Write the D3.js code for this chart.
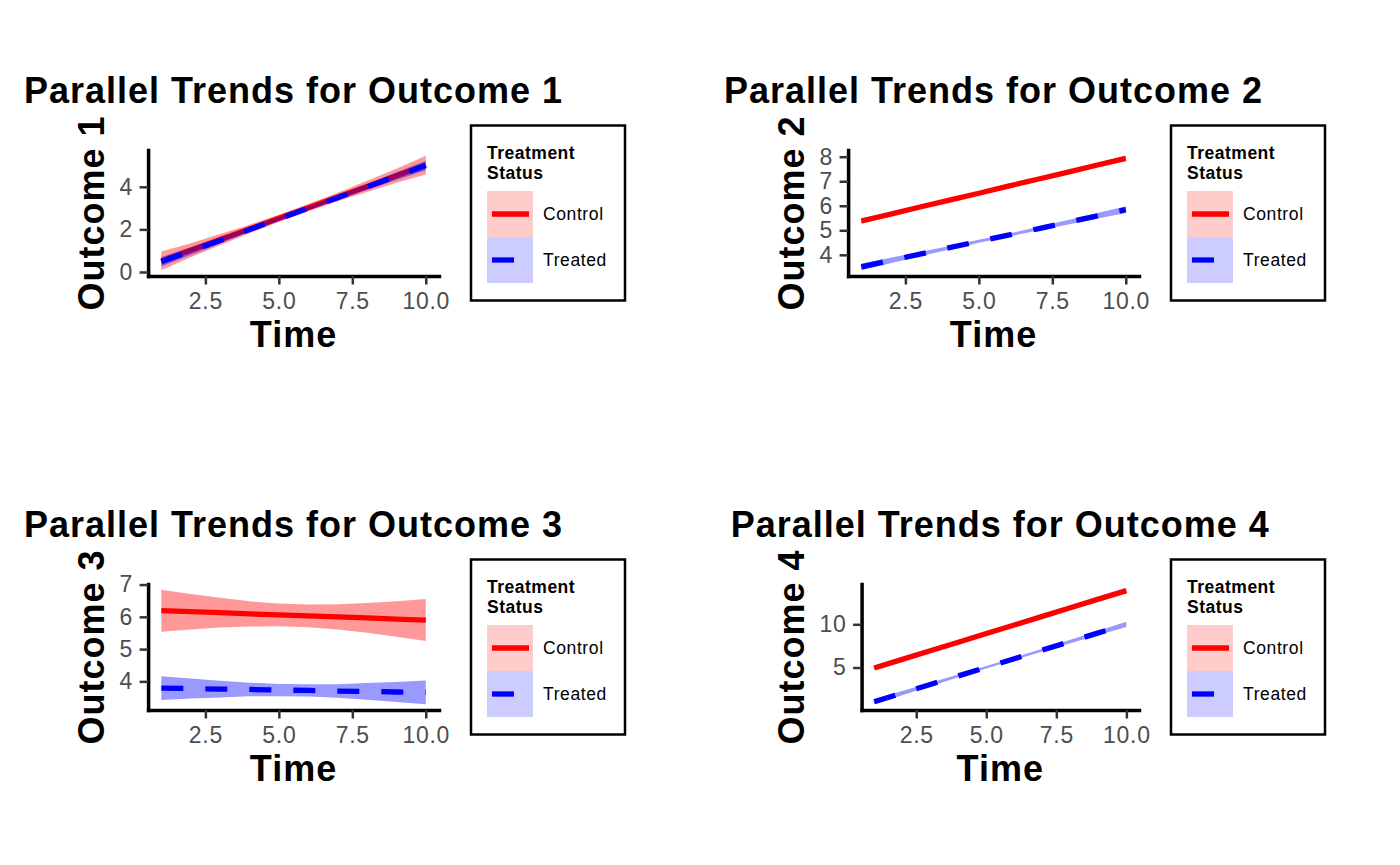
<!DOCTYPE html>
<html>
<head>
<meta charset="utf-8">
<script src="https://cdnjs.cloudflare.com/ajax/libs/d3/7.8.5/d3.min.js"></script>
<style>
  body { margin: 0; background: #fff; }
  text { font-family: "Liberation Sans", Arial, sans-serif; }
</style>
</head>
<body>
<div class="canvas"></div>
<script>
//---------------------------
// data (fitted lines with their confidence bands)
const time = [1, 2, 3, 4, 5, 6, 7, 8, 9, 10];
const xTicks = [2.5, 5.0, 7.5, 10.0];
const groups = ['Control', 'Treated'];
const outcomeNames = ['Outcome 1', 'Outcome 2', 'Outcome 3', 'Outcome 4'];

// Outcome 1
const o1Control   = [0.52, 1.02, 1.52, 2.02, 2.52, 3.02, 3.52, 4.02, 4.52, 5.02];
const o1ControlLo = [0.08, 0.69, 1.26, 1.82, 2.35, 2.85, 3.32, 3.76, 4.19, 4.58];
const o1ControlHi = [0.96, 1.35, 1.78, 2.22, 2.69, 3.19, 3.72, 4.28, 4.85, 5.46];
const o1Treated   = [0.48, 0.98, 1.48, 1.99, 2.49, 2.99, 3.49, 3.99, 4.50, 5.00];
const o1TreatedLo = [0.26, 0.80, 1.34, 1.88, 2.40, 2.90, 3.38, 3.85, 4.32, 4.78];
const o1TreatedHi = [0.70, 1.16, 1.62, 2.10, 2.58, 3.08, 3.60, 4.13, 4.68, 5.22];
const o1YTicks = [0, 2, 4];

// Outcome 2
const o2Control   = [5.38, 5.66, 5.95, 6.23, 6.51, 6.80, 7.08, 7.36, 7.65, 7.93];
const o2ControlLo = [5.27, 5.57, 5.88, 6.17, 6.46, 6.75, 7.02, 7.29, 7.56, 7.82];
const o2ControlHi = [5.49, 5.75, 6.02, 6.29, 6.56, 6.85, 7.14, 7.43, 7.74, 8.04];
const o2Treated   = [3.51, 3.77, 4.03, 4.29, 4.55, 4.80, 5.06, 5.32, 5.58, 5.84];
const o2TreatedLo = [3.37, 3.66, 3.94, 4.22, 4.49, 4.74, 4.99, 5.23, 5.47, 5.70];
const o2TreatedHi = [3.65, 3.88, 4.12, 4.36, 4.61, 4.86, 5.13, 5.41, 5.69, 5.98];
const o2YTicks = [4, 5, 6, 7, 8];

// Outcome 3
const o3Control   = [6.19, 6.16, 6.13, 6.09, 6.06, 6.03, 6.00, 5.97, 5.93, 5.90];
const o3ControlLo = [5.54, 5.61, 5.67, 5.70, 5.71, 5.68, 5.61, 5.51, 5.38, 5.25];
const o3ControlHi = [6.84, 6.71, 6.59, 6.48, 6.41, 6.38, 6.39, 6.43, 6.48, 6.55];
const o3Treated   = [3.79, 3.78, 3.76, 3.75, 3.73, 3.72, 3.70, 3.69, 3.67, 3.66];
const o3TreatedLo = [3.42, 3.47, 3.50, 3.54, 3.54, 3.53, 3.49, 3.43, 3.36, 3.29];
const o3TreatedHi = [4.16, 4.09, 4.02, 3.96, 3.92, 3.91, 3.91, 3.95, 3.98, 4.03];
const o3YTicks = [4, 5, 6, 7];

// Outcome 4
const o4Control   = [4.95, 5.94, 6.94, 7.93, 8.93, 9.92, 10.92, 11.91, 12.91, 13.90];
const o4ControlLo = [4.85, 5.85, 6.86, 7.86, 8.87, 9.86, 10.85, 11.83, 12.82, 13.80];
const o4ControlHi = [5.05, 6.03, 7.02, 8.00, 8.99, 9.98, 10.99, 11.99, 13.00, 14.00];
const o4Treated   = [1.05, 2.04, 3.04, 4.03, 5.03, 6.02, 7.02, 8.01, 9.01, 10.00];
const o4TreatedLo = [0.75, 1.79, 2.84, 3.87, 4.89, 5.88, 6.86, 7.81, 8.76, 9.70];
const o4TreatedHi = [1.35, 2.29, 3.24, 4.19, 5.17, 6.16, 7.18, 8.21, 9.26, 10.30];
const o4YTicks = [5, 10];
//---------------------------

// build the table the drawing code walks through
const panels = [
    { fit: [o1Control, o1Treated], lo: [o1ControlLo, o1TreatedLo], hi: [o1ControlHi, o1TreatedHi], yTicks: o1YTicks },
    { fit: [o2Control, o2Treated], lo: [o2ControlLo, o2TreatedLo], hi: [o2ControlHi, o2TreatedHi], yTicks: o2YTicks },
    { fit: [o3Control, o3Treated], lo: [o3ControlLo, o3TreatedLo], hi: [o3ControlHi, o3TreatedHi], yTicks: o3YTicks },
    { fit: [o4Control, o4Treated], lo: [o4ControlLo, o4TreatedLo], hi: [o4ControlHi, o4TreatedHi], yTicks: o4YTicks }
];

// style / layout properties
const prop = {
    width: 1400,
    height: 865,
    cellW: 700,
    cellH: 434,
    plotTop: 150,
    plotBottom: 276,
    plotRight: 439,
    yTitleX: 104,     // baseline of the rotated y title
    colors: ['#FF0000', '#0000FF'],
    keyFills: ['#FFCCCC', '#CCCCFF'],
    dash: ['none', '22,22'],
    lineWidth: 5.3,
    titleSize: 36,
    titleSpacing: 1
};

const svg = d3.select('.canvas').append('svg')
    .attr('width', prop.width)
    .attr('height', prop.height);

// x scale is the same for every panel apart from the left edge
const xExt = d3.extent(time);
const xPad = (xExt[1] - xExt[0]) * 0.05;

panels.forEach((p, i) => {
    const offX = (i % 2) * prop.cellW;
    const offY = Math.floor(i / 2) * prop.cellH;
    const g = svg.append('g').attr('transform', `translate(${offX},${offY})`);

    // y scale, ggplot style 5% expansion
    const all = d3.merge(p.lo.concat(p.hi));
    const [mn, mx] = d3.extent(all);
    const yPad = (mx - mn) * 0.05;
    const y = d3.scaleLinear()
        .domain([mn - yPad, mx + yPad])
        .range([prop.plotBottom, prop.plotTop]);

    // y axis first, so the label width decides where the panel starts
    const yAxisG = g.append('g');
    yAxisG.call(d3.axisLeft(y).tickValues(p.yTicks).tickFormat(d3.format('d'))
        .tickSize(8.5).tickPadding(6.5).tickSizeOuter(0));
    yAxisG.selectAll('text')
        .attr('font-size', 23)
        .attr('letter-spacing', 0.7)
        .attr('fill', '#4D4D4D');
    let labelW = 0;
    yAxisG.selectAll('text').each(function () {
        labelW = Math.max(labelW, this.getComputedTextLength());
    });
    const left = prop.yTitleX + 15.6 + labelW + 15;
    yAxisG.attr('transform', `translate(${left},0)`);

    const x = d3.scaleLinear()
        .domain([xExt[0] - xPad, xExt[1] + xPad])
        .range([left, prop.plotRight]);

    const xAxisG = g.append('g').attr('transform', `translate(0,${prop.plotBottom})`);
    xAxisG.call(d3.axisBottom(x).tickValues(xTicks).tickFormat(d3.format('.1f'))
        .tickSize(8.5).tickPadding(8).tickSizeOuter(0));
    xAxisG.selectAll('text')
        .attr('font-size', 23)
        .attr('letter-spacing', 0.7)
        .attr('fill', '#4D4D4D');

    // axis line / tick styling
    [xAxisG, yAxisG].forEach(a => {
        a.select('.domain').attr('stroke', '#000').attr('stroke-width', 3.5).attr('stroke-linecap', 'square');
        a.selectAll('.tick line').attr('stroke', '#333333').attr('stroke-width', 2.5);
    });

    // ribbons and lines: control ribbon, control line, treated ribbon, treated line
    const area = d3.area().x((d, k) => x(time[k])).y0(d => y(d[0])).y1(d => y(d[1]));
    const line = d3.line().x((d, k) => x(time[k])).y(d => y(d));
    groups.forEach((grp, s) => {
        const band = p.lo[s].map((v, k) => [v, p.hi[s][k]]);
        g.append('path')
            .attr('d', area(band))
            .attr('fill', prop.colors[s])
            .attr('fill-opacity', 0.4);
        g.append('path')
            .attr('d', line(p.fit[s]))
            .attr('fill', 'none')
            .attr('stroke', prop.colors[s])
            .attr('stroke-width', prop.lineWidth)
            .attr('stroke-dasharray', prop.dash[s]);
    });
    // axes drawn on top of the data like ggplot's axis lines
    xAxisG.raise();
    yAxisG.raise();

    const midX = (x.range()[0] + x.range()[1]) / 2;
    const midY = (prop.plotTop + prop.plotBottom) / 2;

    // titles
    g.append('text')
        .attr('x', midX).attr('y', 103)
        .attr('text-anchor', 'middle')
        .attr('font-size', prop.titleSize).attr('font-weight', 'bold')
        .attr('letter-spacing', prop.titleSpacing)
        .text('Parallel Trends for ' + outcomeNames[i]);
    g.append('text')
        .attr('x', midX).attr('y', prop.plotBottom + 71)
        .attr('text-anchor', 'middle')
        .attr('font-size', prop.titleSize).attr('font-weight', 'bold')
        .attr('letter-spacing', prop.titleSpacing)
        .text('Time');
    g.append('text')
        .attr('transform', `translate(${prop.yTitleX},${midY}) rotate(-90)`)
        .attr('text-anchor', 'middle')
        .attr('font-size', prop.titleSize).attr('font-weight', 'bold')
        .attr('letter-spacing', prop.titleSpacing)
        .text(outcomeNames[i]);

    // legend
    const lg = g.append('g').attr('transform', `translate(471,${midY})`);
    lg.append('rect')
        .attr('x', 0).attr('y', -87.5)
        .attr('width', 154).attr('height', 175)
        .attr('fill', '#fff').attr('stroke', '#000').attr('stroke-width', 2.5);
    lg.append('text')
        .attr('x', 16).attr('y', -54)
        .attr('font-size', 17.5).attr('font-weight', 'bold').attr('letter-spacing', 0.5)
        .text('Treatment');
    lg.append('text')
        .attr('x', 16).attr('y', -34)
        .attr('font-size', 17.5).attr('font-weight', 'bold').attr('letter-spacing', 0.5)
        .text('Status');
    groups.forEach((grp, s) => {
        const ky = -22 + s * 46;
        lg.append('rect')
            .attr('x', 16).attr('y', ky)
            .attr('width', 46).attr('height', 46)
            .attr('fill', prop.keyFills[s]);
        lg.append('line')
            .attr('x1', 21).attr('x2', 58)
            .attr('y1', ky + 23).attr('y2', ky + 23)
            .attr('stroke', prop.colors[s])
            .attr('stroke-width', prop.lineWidth)
            .attr('stroke-dasharray', prop.dash[s]);
        lg.append('text')
            .attr('x', 72).attr('y', ky + 23)
            .attr('dy', '0.35em')
            .attr('font-size', 17.5).attr('letter-spacing', 0.6)
            .text(grp);
    });
});
</script>
</body>
</html>
